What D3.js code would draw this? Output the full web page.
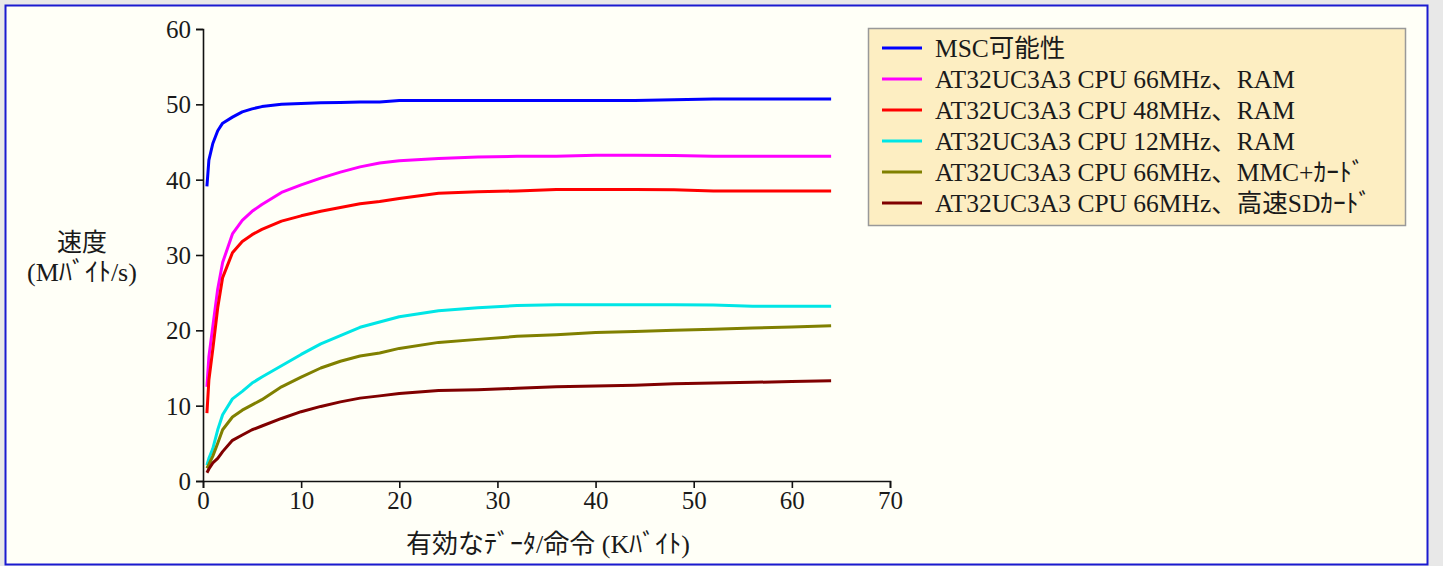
<!DOCTYPE html>
<html>
<head>
<meta charset="utf-8">
<script src="https://cdn.jsdelivr.net/npm/d3@7"></script>
<style>
body { margin: 0; background: #e8e8e8; }
text { font-family: "Liberation Serif", "Noto Sans CJK JP", serif; fill: #1a1a1a; }
</style>
</head>
<body>
<div id="content"></div>
<script>
// Set up canvas
var width = 1443, height = 566;

// data
var sizes = [0.4, 0.6, 1, 1.5, 2, 3, 4, 5, 6, 8, 10, 12, 14, 16, 18, 20, 24, 28, 32, 36, 40, 44, 48, 52, 56, 60, 64];
var mscMax   = [39.1, 42.6, 44.8, 46.5, 47.5, 48.3, 49.0, 49.4, 49.7, 50.0, 50.1, 50.2, 50.25, 50.3, 50.3, 50.5, 50.5, 50.5, 50.5, 50.5, 50.5, 50.5, 50.6, 50.7, 50.7, 50.7, 50.7];
var cpu66Ram = [12.5, 16.5, 20.5, 25.5, 29.0, 32.8, 34.6, 35.8, 36.7, 38.3, 39.3, 40.2, 41.0, 41.7, 42.2, 42.5, 42.8, 43.0, 43.1, 43.1, 43.25, 43.25, 43.2, 43.1, 43.1, 43.1, 43.1];
var cpu48Ram = [9.0, 13.4, 17.5, 23.0, 27.0, 30.3, 31.8, 32.7, 33.4, 34.5, 35.2, 35.8, 36.3, 36.8, 37.1, 37.5, 38.2, 38.4, 38.5, 38.7, 38.7, 38.7, 38.65, 38.5, 38.5, 38.5, 38.5];
var cpu12Ram = [2.1, 3.0, 4.3, 6.8, 8.8, 10.9, 11.9, 13.0, 13.8, 15.3, 16.8, 18.2, 19.3, 20.4, 21.1, 21.8, 22.6, 23.0, 23.3, 23.4, 23.4, 23.4, 23.4, 23.35, 23.2, 23.2, 23.2];
var cpu66Mmc = [1.7, 2.2, 3.3, 5.0, 6.8, 8.5, 9.4, 10.1, 10.8, 12.5, 13.8, 15.0, 15.9, 16.6, 17.0, 17.6, 18.4, 18.8, 19.2, 19.4, 19.7, 19.85, 20.0, 20.15, 20.3, 20.45, 20.6];
var cpu66Sd  = [1.1, 1.6, 2.4, 3.0, 3.9, 5.4, 6.1, 6.8, 7.3, 8.3, 9.2, 9.9, 10.5, 11.0, 11.3, 11.6, 12.0, 12.1, 12.3, 12.5, 12.6, 12.7, 12.9, 13.0, 13.1, 13.2, 13.3];

var seriesNames = ["MSC可能性", "AT32UC3A3 CPU 66MHz、RAM", "AT32UC3A3 CPU 48MHz、RAM",
    "AT32UC3A3 CPU 12MHz、RAM", "AT32UC3A3 CPU 66MHz、MMC+ｶｰﾄﾞ", "AT32UC3A3 CPU 66MHz、高速SDｶｰﾄﾞ"];
var seriesValues = [mscMax, cpu66Ram, cpu48Ram, cpu12Ram, cpu66Mmc, cpu66Sd];
var colors = ["#0000ff", "#ff00ff", "#ff0000", "#00e6e6", "#808000", "#800000"];

var xTicks = [0, 10, 20, 30, 40, 50, 60, 70];
var yTicks = [0, 10, 20, 30, 40, 50, 60];

var svg = d3.select("#content")
    .append("svg")
    .attr("width", width)
    .attr("height", height);

// outer frame
svg.append("rect")
    .attr("x", 5.5).attr("y", 5.5)
    .attr("width", 1422).attr("height", 559)
    .style("fill", "#fffff7")
    .style("stroke", "#1a1ad0")
    .style("stroke-width", 2);

var xscale = d3.scaleLinear()
    .domain([0, 70])
    .range([203, 890]);

var yscale = d3.scaleLinear()
    .domain([0, 60])
    .range([481, 29]);

var x_axis = d3.axisBottom(xscale).tickValues(xTicks).tickSize(7).tickPadding(3);
var y_axis = d3.axisLeft(yscale).tickValues(yTicks).tickSize(7).tickPadding(5);

var gx = svg.append("g")
    .attr("transform", "translate(0," + yscale(0) + ")")
    .call(x_axis);
var gy = svg.append("g")
    .attr("transform", "translate(" + xscale(0) + ",0)")
    .call(y_axis);

[gx, gy].forEach(function(g) {
    g.selectAll("path, line").style("stroke", "#111").style("stroke-width", 1.6);
    g.selectAll("text").style("font-size", "25px").style("font-family", "Liberation Serif");
});
gy.selectAll(".tick text").attr("dy", "0.34em");

// lines
var line = d3.line()
    .x(function(d, i) { return xscale(sizes[i]); })
    .y(function(d) { return yscale(d); });

seriesValues.forEach(function(vals, k) {
    svg.append("path")
        .datum(vals)
        .attr("d", line)
        .style("fill", "none")
        .style("stroke", colors[k])
        .style("stroke-width", 3)
        .style("stroke-linejoin", "round");
});

// axis titles
svg.append("text")
    .attr("x", 82).attr("y", 251)
    .attr("text-anchor", "middle")
    .style("font-size", "25px")
    .text("速度");
svg.append("text")
    .attr("x", 82).attr("y", 281)
    .attr("text-anchor", "middle")
    .style("font-size", "26px")
    .text("(Mﾊﾞｲﾄ/s)");
svg.append("text")
    .attr("x", 548).attr("y", 553)
    .attr("text-anchor", "middle")
    .style("font-size", "26px")
    .text("有効なﾃﾞｰﾀ/命令 (Kﾊﾞｲﾄ)");

// legend
var legend = svg.append("g");
legend.append("rect")
    .attr("x", 868.5).attr("y", 28.5)
    .attr("width", 537).attr("height", 197)
    .style("fill", "#fdeec2")
    .style("stroke", "#999")
    .style("stroke-width", 1.5);

seriesNames.forEach(function(name, k) {
    var ly = 48 + k * 31;
    legend.append("line")
        .attr("x1", 882).attr("x2", 922)
        .attr("y1", ly).attr("y2", ly)
        .style("stroke", colors[k])
        .style("stroke-width", 3);
    legend.append("text")
        .attr("x", 935).attr("y", ly)
        .attr("dy", "0.36em")
        .style("font-size", "25.5px")
        .text(name);
});
</script>
</body>
</html>
